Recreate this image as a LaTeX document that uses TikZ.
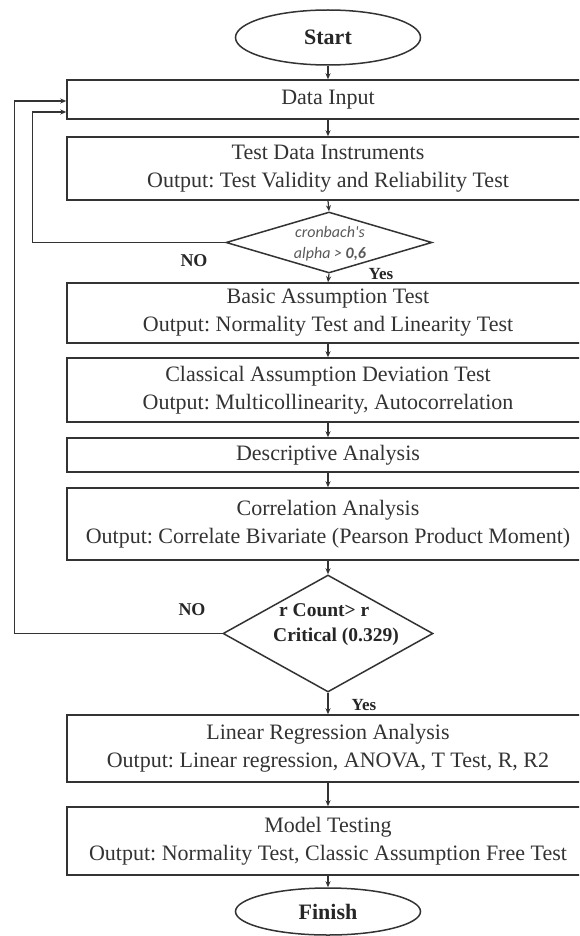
\documentclass[tikz,border=0pt]{standalone}
\usepackage{fontspec}
\setmainfont{Liberation Serif}
\newfontfamily\calib{Carlito}
\usetikzlibrary{shapes.geometric,arrows.meta,calc}
\frenchspacing
\begin{document}
\begin{tikzpicture}[x=1pt,y=-1pt,
  ln/.style={line width=1.5pt,draw=black!80},
  box/.style={ln,rectangle,minimum width=522pt,inner sep=0pt,align=center,
    font=\fontsize{22}{28}\selectfont,text=black!80},
  term/.style={ln,ellipse,minimum width=185pt,inner sep=0pt,
    font=\fontsize{22}{26}\selectfont\bfseries,text=black!85},
  dec/.style={ln,diamond,inner sep=0pt},
  lab/.style={font=\fontsize{18}{20}\selectfont\bfseries,text=black!85,inner sep=0pt},
  arr/.style={ln,line width=1.2pt,-{Stealth[length=6pt,width=5pt]}},
  con/.style={ln,line width=1.2pt}]
\useasboundingbox (0,0) rectangle (579,936);
\fill[white] (0,0) rectangle (579,936);
\clip (0,0) rectangle (579,936);

\node[term,minimum height=55pt] (start) at (328,37.5) {Start};
\node[box,minimum height=39pt] (di) at (328,99.5) {Data Input};
\node[box,minimum height=63pt] (tdi) at (328,168.5) {Test Data Instruments\\Output: Test Validity and Reliability Test};
\node[dec,minimum width=206pt,minimum height=61pt] (d1) at (329,242.5) {};
\node[font=\calib\itshape\fontsize{16}{21}\selectfont,text=black!65,align=center,inner sep=0pt] (d1t) at (330,243.5) {cronbach's\\alpha > \textbf{0,6}};
\node[box,minimum height=60pt] (bat) at (328,313) {Basic Assumption Test\\Output: Normality Test and Linearity Test};
\node[box,minimum height=64pt] (cad) at (328,390) {Classical Assumption Deviation Test\\Output: Multicollinearity, Autocorrelation};
\node[box,minimum height=34pt] (da) at (328,455) {Descriptive Analysis};
\node[box,minimum height=72pt] (ca) at (328,524) {Correlation Analysis\\Output: Correlate Bivariate (Pearson Product Moment)};
\node[dec,minimum width=210pt,minimum height=117pt] (d2) at (328,633.5) {};
\node[font=\fontsize{19.5}{25}\selectfont\bfseries,text=black!85,align=left,inner sep=0pt,anchor=west] (d2t) at (273,625) {\hspace*{6pt}r Count> r\\Critical (0.329)};
\node[box,minimum height=67pt] (lra) at (328,748.5) {Linear Regression Analysis\\Output: Linear regression, ANOVA, T Test, R, R2};
\node[box,minimum height=68pt] (mt) at (328,841) {Model Testing\\Output: Normality Test, Classic Assumption Free Test};
\node[term,minimum height=47pt] (fin) at (328,911.5) {Finish};

\node[lab] (no1) at (194,261) {NO};
\node[lab,font=\fontsize{17}{20}\selectfont\bfseries] (yes1) at (381,274) {Yes};
\node[lab] (no2) at (192,610) {NO};
\node[lab,font=\fontsize{17}{20}\selectfont\bfseries] (yes2) at (364,705) {Yes};

\draw[arr] (start) -- (di);
\draw[arr] (di) -- (tdi);
\draw[arr] (tdi.south) -- (d1.north);
\draw[arr] (d1.south) -- (bat.north);
\draw[arr] (bat) -- (cad);
\draw[arr] (cad) -- (da);
\draw[arr] (da) -- (ca);
\draw[arr] (ca) -- (d2);
\draw[arr] (d2) -- (lra);
\draw[arr] (lra) -- (mt);
\draw[arr] (mt) -- (fin);

\draw[arr] (d1.west) -- ++(-193,0) |- ([yshift=-12.5pt]di.west);
\draw[arr] (d2.west) -- ++(-208,0) |- ([yshift=-1.5pt]di.west);
\end{tikzpicture}
\end{document}
